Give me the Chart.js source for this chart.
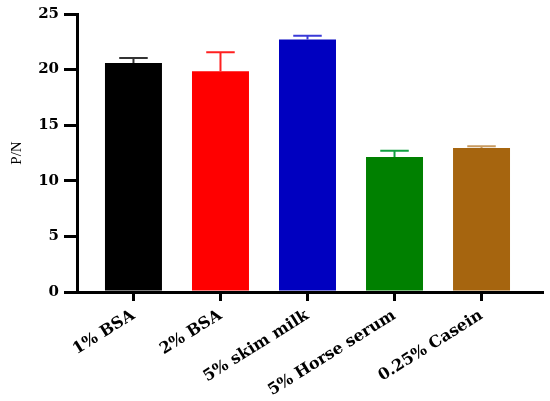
<!DOCTYPE html>
<html><head><meta charset="utf-8">
<script src="https://cdn.jsdelivr.net/npm/chart.js@4"></script>
<style>html,body{margin:0;padding:0;background:#fff;overflow:hidden}</style>
</head><body>
<canvas id="c" width="550" height="401"></canvas>
<script>
const categories = ['1% BSA', '2% BSA', '5% skim milk', '5% Horse serum', '0.25% Casein'];
const means = [20.6, 19.85, 22.7, 12.15, 12.95];
const errors = [0.45, 1.7, 0.35, 0.55, 0.15];
const colors = ['#000000', '#ff0000', '#0000c0', '#008000', '#a6650f'];
const errColors = ['#333333', '#ff2020', '#3a3ad8', '#10a040', '#c89a60'];
const yTitle = 'P/N';
const yMin = 0, yMax = 25, yStep = 5;

const points = means.map((v, i) => ({x: i, y: v}));

const errorBars = {
  id: 'errorBars',
  afterDatasetsDraw(chart) {
    const ctx = chart.ctx;
    const meta = chart.getDatasetMeta(0);
    const ys = chart.scales.y;
    meta.data.forEach((el, i) => {
      const base = ys.getPixelForValue(means[i]);
      const top = ys.getPixelForValue(means[i] + errors[i]);
      const half = el.width * 0.25;
      ctx.save();
      ctx.strokeStyle = errColors[i];
      ctx.lineWidth = 2;
      ctx.beginPath();
      ctx.moveTo(el.x, base);
      ctx.lineTo(el.x, top);
      ctx.moveTo(el.x - half, top);
      ctx.lineTo(el.x + half, top);
      ctx.stroke();
      ctx.restore();
    });
  }
};

new Chart(document.getElementById('c'), {
  type: 'bar',
  data: {
    datasets: [{
      data: points,
      backgroundColor: colors,
      borderWidth: 0,
      categoryPercentage: 1,
      barPercentage: 0.655
    }]
  },
  options: {
    responsive: false,
    animation: false,
    devicePixelRatio: 1,
    layout: {padding: {top: 13, right: 8, left: 0, bottom: 0}},
    plugins: {legend: {display: false}, tooltip: {enabled: false}},
    scales: {
      x: {
        type: 'linear',
        offset: false,
        min: -0.649,
        max: 4.695,
        afterFit(s) { s.height = 109; },
        border: {display: true, color: '#000', width: 3},
        grid: {offset: false, drawOnChartArea: false, drawTicks: true, tickLength: 9, lineWidth: 3, color: '#000'},
        ticks: {
          stepSize: 1,
          includeBounds: false,
          autoSkip: false,
          minRotation: 32,
          maxRotation: 32,
          padding: 5,
          color: '#000',
          font: {family: 'DejaVu Serif', weight: 'bold', size: 16},
          callback: (v) => (Number.isInteger(v) && categories[v] !== undefined) ? categories[v] : ''
        }
      },
      y: {
        min: yMin,
        max: yMax,
        afterFit(s) { s.width = 77; },
        border: {display: true, color: '#000', width: 3},
        grid: {drawOnChartArea: false, drawTicks: true, tickLength: 13, lineWidth: 3, color: '#000'},
        ticks: {
          stepSize: yStep,
          padding: 5,
          color: '#000',
          font: {family: 'DejaVu Serif', weight: 'bold', size: 15}
        },
        title: {
          display: true,
          text: yTitle,
          color: '#000',
          padding: {top: 8, bottom: 0},
          font: {family: 'Liberation Serif', size: 15}
        }
      }
    }
  },
  plugins: [errorBars]
});
</script>
</body></html>
